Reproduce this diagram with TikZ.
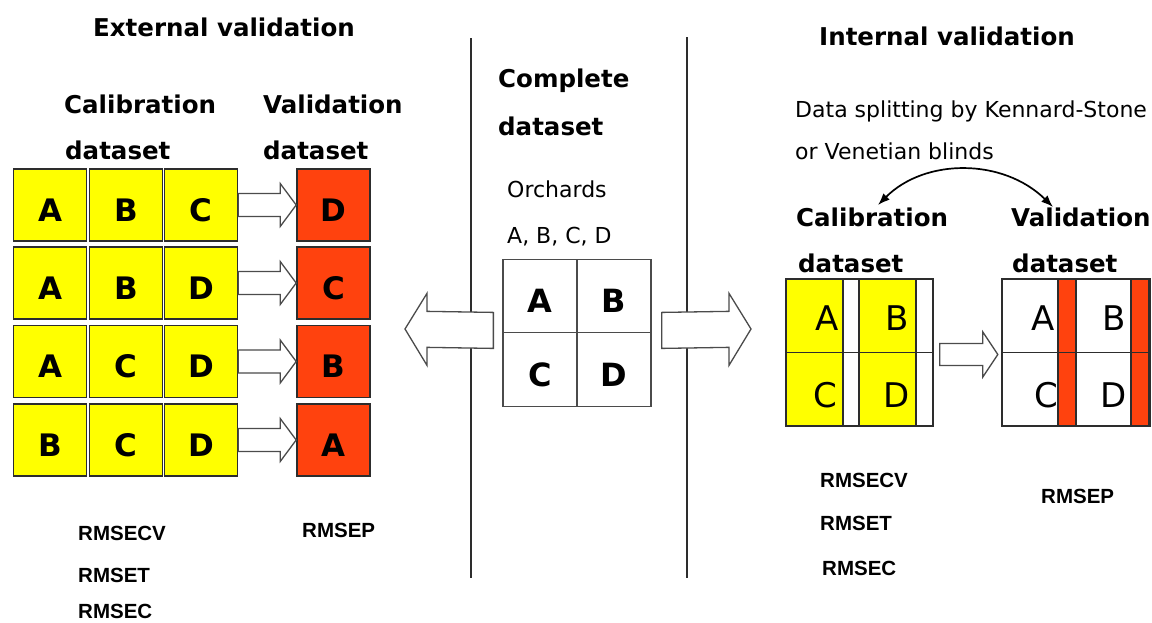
\documentclass[tikz,border=0pt]{standalone}
\usepackage{fontspec}
\setmainfont{DejaVu Sans}
\newfontfamily\metricfont{Liberation Sans}
\usetikzlibrary{calc,arrows.meta}

\definecolor{cellyellow}{RGB}{255,255,0}
\definecolor{cellred}{RGB}{255,66,14}
\definecolor{edge}{RGB}{45,45,45}
\definecolor{arrowgray}{RGB}{75,75,75}

% hollow block arrow: #1 tail, #2 tip, #3 shaft half-width, #4 head half-width, #5 head length
\newcommand\hollowarrow[5]{%
  \path ($(#2)!#5!(#1)$) coordinate (hb);
  \draw[blockarrow] ($(#1)+(0,#3)$) -- ($(hb)+(0,#3)$) -- ($(hb)+(0,#4)$) -- (#2)
    -- ($(hb)+(0,-#4)$) -- ($(hb)+(0,-#3)$) -- ($(#1)+(0,-#3)$) -- cycle;}

\begin{document}
\begin{tikzpicture}[x=1pt,y=-1pt,
  heading/.style={anchor=base west, inner sep=0pt, font=\fontsize{24.5}{29}\selectfont\bfseries},
  plain/.style={anchor=base west, inner sep=0pt, font=\fontsize{22}{26}\selectfont},
  metric/.style={anchor=base west, inner sep=0pt, font=\fontsize{20.5}{24}\selectfont\metricfont\bfseries},
  cell/.style={draw=edge, line width=1.6pt, minimum width=73pt, minimum height=72pt,
    inner sep=0pt, text height=32pt, text depth=0pt, font=\fontsize{31}{36}\selectfont\bfseries},
  ycell/.style={cell, fill=cellyellow},
  rcell/.style={cell, fill=cellred},
  wcell/.style={cell, fill=white, draw=arrowgray, line width=1.3pt, minimum width=74pt,
    minimum height=73.5pt, text height=33pt, font=\fontsize{32}{38}\selectfont\bfseries},
  frame/.style={draw=edge, line width=1.4pt, minimum width=147pt, minimum height=147pt, inner sep=0pt},
  letter/.style={anchor=base, inner sep=0pt, font=\fontsize{34}{40}\selectfont},
  blockarrow/.style={draw=arrowgray, line width=1.3pt, fill=white, line join=miter},
  divider/.style={line width=2pt, draw=edge},
  gridline/.style={draw=edge, line width=1.4pt},
]
\useasboundingbox (0,0) rectangle (1152,622);
\fill[white] (0,0) rectangle (1152,622);

% ---------- external validation ----------
\node[heading] (exttitle) at (93,36) {External validation};
\node[heading] (extcal1) at (64,113) {Calibration};
\node[heading] (extcal2) at (65,159) {dataset};
\node[heading] (extval1) at (263,113) {Validation};
\node[heading] (extval2) at (263,159) {dataset};

\foreach \row/\y/\a/\b/\c/\v in {1/205/A/B/C/D, 2/283/A/B/D/C, 3/361.5/A/C/D/B, 4/440/B/C/D/A}{
  \node[ycell] (c\row a) at (50,\y) {\a};
  \node[ycell] (c\row b) at (126,\y) {\b};
  \node[ycell] (c\row c) at (201,\y) {\c};
  \node[rcell] (v\row) at (333.5,\y) {\v};
  \hollowarrow{c\row c.east}{v\row.west}{11.5}{21.5}{16pt}
}

\node[metric] (extcv) at (78,540) {RMSECV};
\node[metric] (extt)  at (78,582) {RMSET};
\node[metric] (extc)  at (78,618) {RMSEC};
\node[metric] (extp)  at (302,537) {RMSEP};

% ---------- dividers ----------
\coordinate (divLtop) at (471,38);
\coordinate (divLbot) at (471,578);
\coordinate (divRtop) at (687,37);
\coordinate (divRbot) at (687,578);
\draw[divider] (divLtop) -- (divLbot);
\draw[divider] (divRtop) -- (divRbot);

% ---------- complete dataset ----------
\node[heading] (comp1) at (498,87) {Complete};
\node[heading] (comp2) at (498,135) {dataset};
\node[plain] (orch1) at (507,197) {Orchards};
\node[plain] (orch2) at (507,243) {A, B, C, D};

\node[wcell] (ga) at (540,296) {A};
\node[wcell] (gb) at (614,296) {B};
\node[wcell] (gc) at (540,369.5) {C};
\node[wcell] (gd) at (614,369.5) {D};

\coordinate (leftstart) at ($(ga.south west)+(-9,-3)$);
\coordinate (lefttip) at (405,329);
\hollowarrow{leftstart}{lefttip}{18}{36}{22pt}
\coordinate (rightstart) at ($(gb.south east)+(10,-3)$);
\coordinate (righttip) at (751,329);
\hollowarrow{rightstart}{righttip}{18}{36}{22pt}

% ---------- internal validation ----------
\node[heading] (inttitle) at (819,45) {Internal validation};
\node[plain] (split1) at (795,117) {Data splitting by Kennard-Stone};
\node[plain] (split2) at (795,159) {or Venetian blinds};
\node[heading] (intcal1) at (796,226) {Calibration};
\node[heading] (intcal2) at (798,272) {dataset};
\node[heading] (intval1) at (1011,226) {Validation};
\node[heading] (intval2) at (1012,272) {dataset};

\coordinate (splitL) at (878,205);
\coordinate (splitR) at (1053,207);
\draw[line width=1.7pt, {Latex[length=12pt,width=9pt]}-{Latex[length=12pt,width=9pt]}]
  (splitL) .. controls (925,158) and (1003,158) .. (splitR);

% calibration block
\node[frame] (calgrid) at (859.5,352.5) {};
\draw[gridline, fill=cellyellow] (786,279) rectangle (843,426);
\draw[gridline, fill=cellyellow] (859,279) rectangle (916,426);
\draw[gridline] (calgrid.west) -- (calgrid.east);
\draw[gridline] (calgrid.north west) rectangle (calgrid.south east);
\node[letter] (ia) at (827,330) {A};
\node[letter] (ib) at (897,330) {B};
\node[letter] (ic) at (825,407) {C};
\node[letter] (id) at (897,407) {D};

% validation block
\node[frame] (valgrid) at (1076,352.5) {};
\draw[gridline, fill=cellred] (1058,279) rectangle (1076,426);
\draw[gridline, fill=cellred] (1131,279) rectangle (1149,426);
\draw[gridline] (valgrid.west) -- (valgrid.east);
\draw[gridline] (valgrid.north west) rectangle (valgrid.south east);
\node[letter] (va) at (1043,330) {A};
\node[letter] (vb) at (1114,330) {B};
\node[letter] (vc) at (1046,407) {C};
\node[letter] (vd) at (1114,407) {D};

\coordinate (midstart) at ($(calgrid.east)+(6,2)$);
\coordinate (midtip) at ($(valgrid.west)+(-4,2)$);
\hollowarrow{midstart}{midtip}{11}{22.5}{15pt}

\node[metric] (intcv) at (820,487) {RMSECV};
\node[metric] (intt)  at (820,530) {RMSET};
\node[metric] (intc)  at (822,575) {RMSEC};
\node[metric] (intp)  at (1041,503) {RMSEP};
\end{tikzpicture}
\end{document}
